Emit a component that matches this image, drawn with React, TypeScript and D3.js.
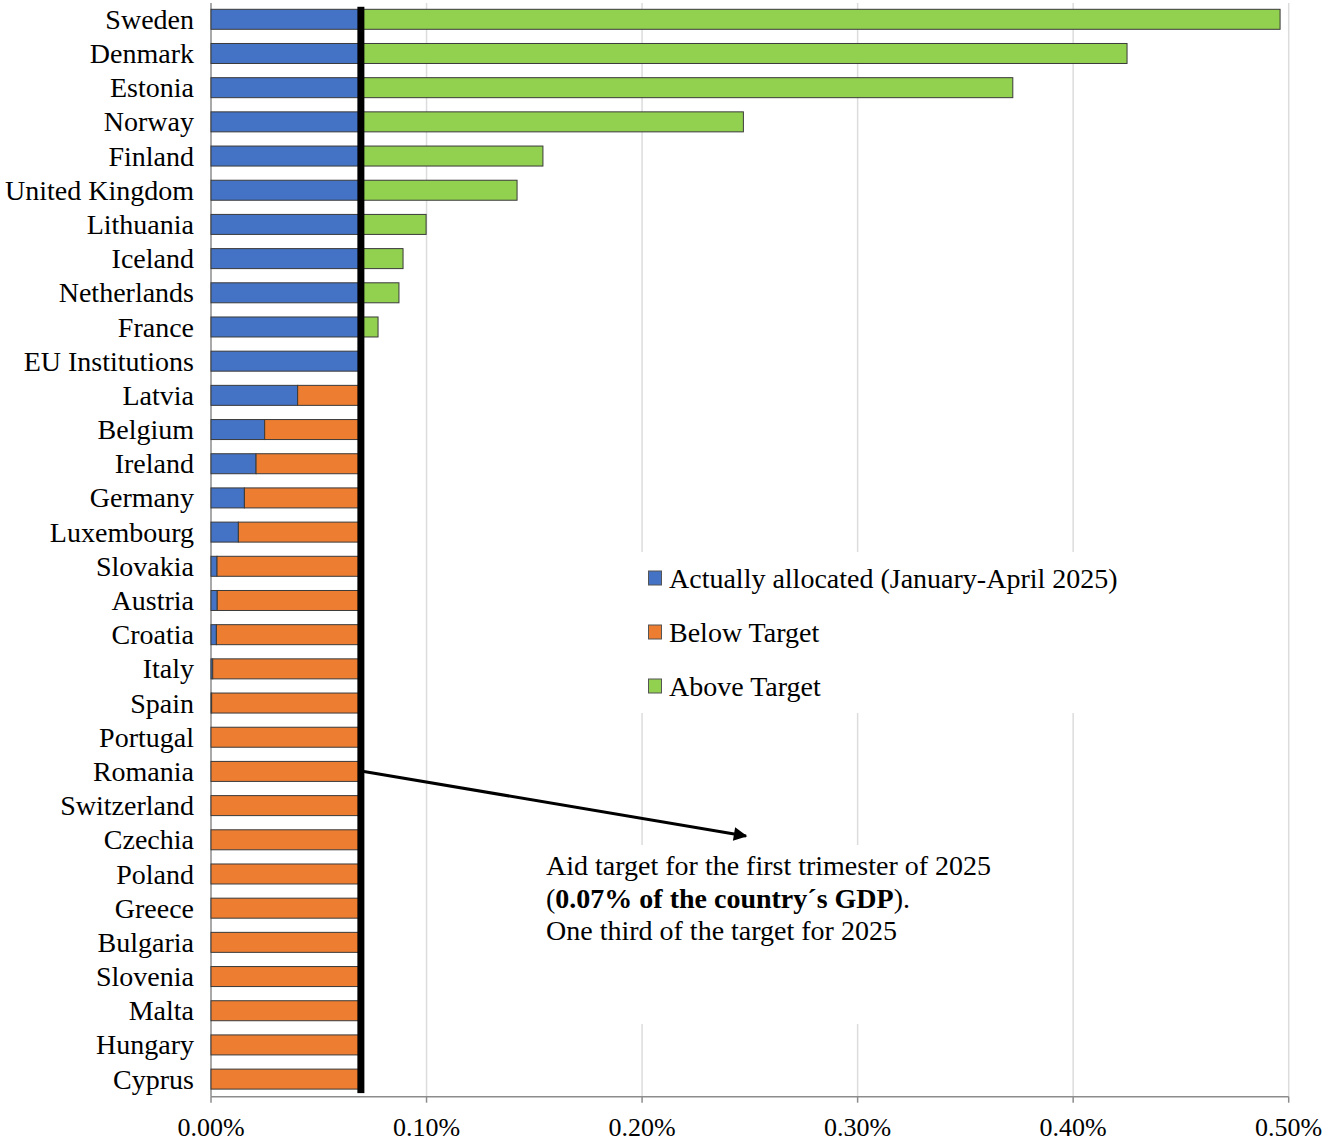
import * as d3 from "d3";

const countries = [
  "Sweden", "Denmark", "Estonia", "Norway", "Finland", "United Kingdom",
  "Lithuania", "Iceland", "Netherlands", "France", "EU Institutions",
  "Latvia", "Belgium", "Ireland", "Germany", "Luxembourg", "Slovakia",
  "Austria", "Croatia", "Italy", "Spain", "Portugal", "Romania",
  "Switzerland", "Czechia", "Poland", "Greece", "Bulgaria", "Slovenia",
  "Malta", "Hungary", "Cyprus",
];

// aid actually allocated Jan-Apr 2025, % of GDP
const allocated = [
  0.496, 0.425, 0.372, 0.247, 0.154, 0.142,
  0.0998, 0.0891, 0.0872, 0.0775, 0.07,
  0.0402, 0.0249, 0.0209, 0.0155, 0.0127, 0.0028,
  0.0029, 0.0025, 0.0008, 0.0003, 0, 0,
  0, 0, 0, 0, 0, 0,
  0, 0, 0,
];

const TARGET = 0.07;
const xTicks = [0, 0.1, 0.2, 0.3, 0.4, 0.5];

const legendItems = [
  { label: "Actually allocated (January-April 2025)", color: "#4472C4" },
  { label: "Below Target", color: "#ED7D31" },
  { label: "Above Target", color: "#92D050" },
];

const W = 1328;
const H = 1143;
const FONT = "'Liberation Serif', 'Times New Roman', serif";

export default function App() {
  const x = d3.scaleLinear().domain([0, 0.5]).range([211, 1288.7]);
  const y = d3
    .scaleBand<string>()
    .domain(countries)
    .range([2.2, 1096.2])
    .paddingInner(0.415)
    .paddingOuter(0.2075);
  const bw = y.bandwidth();
  const axisY = 1096.7;
  const stroke = "#3a3a3a";

  const rows = countries.map((c, i) => ({ c, v: allocated[i] }));
  const romaY = (y("Romania") ?? 0) + bw / 2;
  const tx = x(TARGET) - 1;
  const top = (y(countries[0]) ?? 0) - 2.5;
  const bottom = (y(countries[countries.length - 1]) ?? 0) + bw + 4;

  return (
    <svg
      width={W}
      height={H}
      style={{ position: "absolute", left: 0, top: 0, background: "#fff" }}
      fontFamily={FONT}
    >
      <defs>
        <marker
          id="arrow"
          viewBox="0 0 10 10"
          refX="9"
          refY="5"
          markerWidth="6"
          markerHeight="4.5"
          orient="auto"
        >
          <path d="M0,0 L10,5 L0,10 z" fill="#000" />
        </marker>
      </defs>

      {/* gridlines */}
      {xTicks.slice(1).map((t) => (
        <line
          key={t}
          x1={x(t)}
          x2={x(t)}
          y1={3}
          y2={axisY}
          stroke="#dcdcdc"
          strokeWidth={1.5}
        />
      ))}

      {/* legend and note boxes hide the grid */}
      <rect x={630} y={552} width={510} height={161} fill="#fff" />
      <rect x={535} y={845} width={475} height={179} fill="#fff" />

      {/* axes */}
      <line x1={x(0)} x2={x(0)} y1={3} y2={axisY} stroke="#8c8c8c" strokeWidth={1.5} />
      <line x1={x(0)} x2={x(0.5)} y1={axisY} y2={axisY} stroke="#8c8c8c" strokeWidth={1.5} />
      {xTicks.map((t) => (
        <g key={t}>
          <line x1={x(t)} x2={x(t)} y1={axisY} y2={axisY + 6} stroke="#8c8c8c" strokeWidth={1.5} />
          <text x={x(t)} y={1136} fontSize={26} textAnchor="middle" fill="#000">
            {d3.format(".2f")(t)}%
          </text>
        </g>
      ))}

      {/* bars */}
      {rows.map(({ c, v }) => {
        const yy = y(c) ?? 0;
        const blue = Math.min(v, TARGET);
        return (
          <g key={c}>
            {blue > 0 && (
              <rect x={x(0)} y={yy} width={x(blue) - x(0)} height={bw}
                fill="#4472C4" stroke={stroke} strokeWidth={1} />
            )}
            {v < TARGET && (
              <rect x={x(v)} y={yy} width={x(TARGET) - x(v)} height={bw}
                fill="#ED7D31" stroke={stroke} strokeWidth={1} />
            )}
            {v > TARGET && (
              <rect x={x(TARGET)} y={yy} width={x(v) - x(TARGET)} height={bw}
                fill="#92D050" stroke={stroke} strokeWidth={1} />
            )}
            <text x={194} y={yy + bw / 2} dy="0.34em" fontSize={28}
              textAnchor="end" fill="#000">
              {c}
            </text>
          </g>
        );
      })}

      {/* target line */}
      <rect x={tx - 3.5} y={top} width={7} height={bottom - top} fill="#000" />

      {/* legend */}
      {legendItems.map((d, i) => (
        <g key={d.label} transform={`translate(648,${578 + i * 54})`}>
          <rect x={0.5} y={-7} width={13} height={14} fill={d.color} stroke="#555" strokeWidth={1} />
          <text x={21} y={0} dy="0.34em" fontSize={28} fill="#000">
            {d.label}
          </text>
        </g>
      ))}

      {/* annotation */}
      <line
        x1={tx + 3}
        y1={romaY}
        x2={746}
        y2={836}
        stroke="#000"
        strokeWidth={3}
        markerEnd="url(#arrow)"
      />
      <text x={546} y={875} fontSize={28} fill="#000">
        Aid target for the first trimester of 2025
      </text>
      <text x={546} y={908} fontSize={28} fill="#000">
        (<tspan fontWeight="bold">0.07% of the country´s GDP</tspan>).
      </text>
      <text x={546} y={940} fontSize={28} fill="#000">
        One third of the target for 2025
      </text>
    </svg>
  );
}
